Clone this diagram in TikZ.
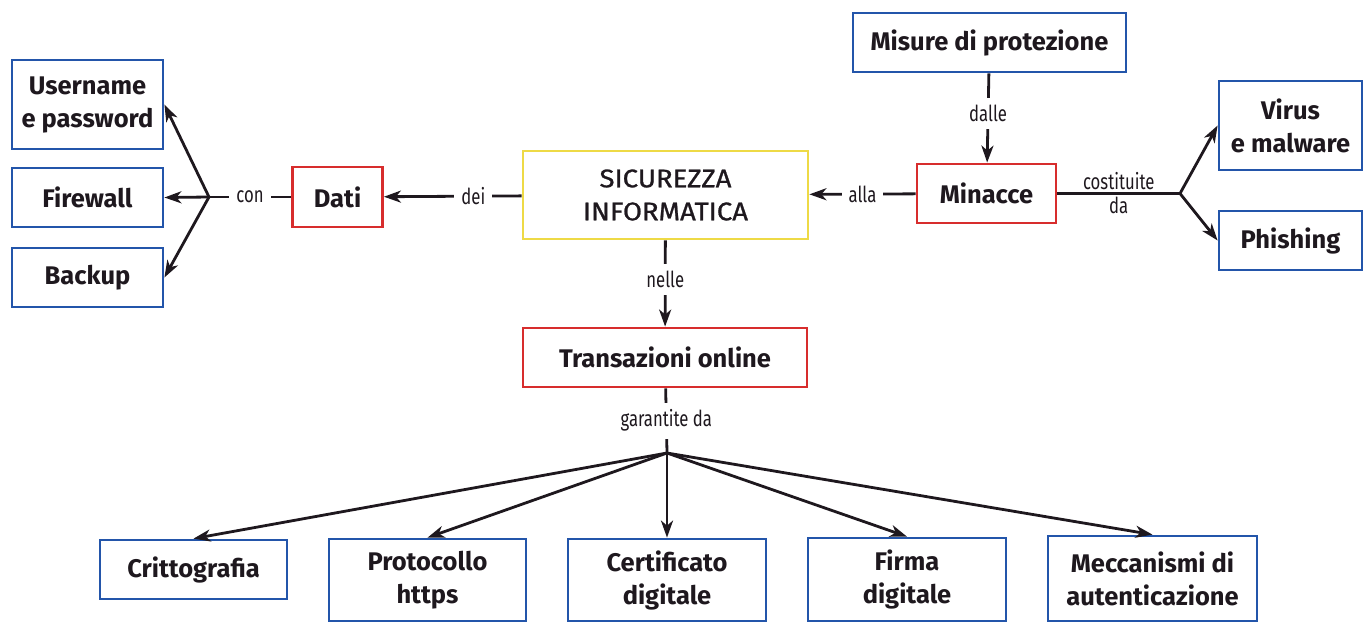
\documentclass[tikz,border=0pt]{standalone}
\usepackage{fontspec}
\setmainfont{Fira Sans}
\newfontfamily\lblfont[FakeStretch=0.76]{Fira Sans}
\newfontfamily\mainfont[FakeStretch=1.08, FakeBold=0.9]{Fira Sans}
\usetikzlibrary{arrows.meta, positioning, calc}
\definecolor{boxblue}{RGB}{35,85,170}
\definecolor{boxred}{RGB}{215,45,45}
\definecolor{boxyellow}{RGB}{238,218,70}
\definecolor{ink}{RGB}{30,24,30}
\tikzset{>={Stealth[length=17pt,width=12pt,inset=5pt]}}
\tikzset{
  concept/.style={rectangle, draw, line width=2.8pt, align=center, text=ink,
    font=\fontsize{25.5}{33}\selectfont\bfseries, inner sep=0pt},
  bluebox/.style={concept, draw=boxblue},
  redbox/.style={concept, draw=boxred},
  mainbox/.style={concept, draw=boxyellow, font=\mainfont\fontsize{25.5}{33}\selectfont},
  arrow/.style={->, line width=2.8pt, draw=ink},
  link/.style={line width=2.8pt, draw=ink},
  lbl/.style={fill=white, text=ink, inner sep=7pt, font=\lblfont\fontsize{22}{24}\selectfont}
}

\begin{document}
\begin{tikzpicture}[x=1pt, y=-1pt]

\useasboundingbox (0,0) rectangle (1364,625);

% Central concept
\node[mainbox, minimum width=285, minimum height=88] (sic) at (665.5,195) {SICUREZZA\\INFORMATICA};

% Left branch
\node[redbox, minimum width=90, minimum height=60] (dati) at (337.5,197) {Dati};
\node[bluebox, minimum width=151, minimum height=89] (user) at (87.5,104.5) {Username\\e password};
\node[bluebox, minimum width=151, minimum height=59] (fire) at (87.5,197.5) {Firewall};
\node[bluebox, minimum width=151, minimum height=59] (back) at (87.5,277.5) {Backup};
\coordinate (conpt) at (209,197);

% Right branch
\node[redbox, minimum width=139, minimum height=59] (min) at (986.5,193.5) {Minacce};
\node[bluebox, minimum width=273, minimum height=59] (mis) at (989.5,42.5) {Misure di protezione};
\node[bluebox, minimum width=143, minimum height=89] (virus) at (1290.5,125.5) {Virus\\e malware};
\node[bluebox, minimum width=143, minimum height=59] (phish) at (1290.5,240.5) {Phishing};
\coordinate (costpt) at (1180,193.5);

% Lower branch
\node[redbox, minimum width=284, minimum height=59] (trans) at (665,357.5) {Transazioni online};
\coordinate (garpt) at (667,453);
\node[bluebox, minimum width=187, minimum height=59] (crit) at (193.5,569.5) {Crittografia};
\node[bluebox, minimum width=197, minimum height=82] (prot) at (427.5,580) {Protocollo\\https};
\node[bluebox, minimum width=198, minimum height=82] (cert) at (667,580) {Certificato\\digitale};
\node[bluebox, minimum width=198, minimum height=83] (firma) at (907,579.5) {Firma\\digitale};
\node[bluebox, minimum width=209, minimum height=85] (mecc) at (1152.5,578.5) {Meccanismi di\\autenticazione};

% Connectors
\draw[arrow] (sic) -- (dati) node[lbl, pos=0.35] {dei};
\draw[link] (dati) -- (conpt) node[lbl, midway] {con};
\draw[arrow] (conpt) -- (user.east);
\draw[arrow] (conpt) -- (fire.east);
\draw[arrow] (conpt) -- (back.east);

\draw[arrow] (min) -- (sic) node[lbl, midway] {alla};
\draw[arrow] (mis) -- (min) node[lbl, pos=0.45] {dalle};
\draw[link] (min) -- (costpt)
  node[midway, above, lbl, fill=none, inner sep=2pt] {costituite}
  node[midway, below, lbl, fill=none, inner sep=2pt] {da};
\draw[arrow] (costpt) -- (virus.west);
\draw[arrow] (costpt) -- (phish.west);

\draw[arrow] (sic) -- (trans) node[lbl, pos=0.45] {nelle};
\draw[link] (trans) -- (garpt) node[lbl, midway] {garantite da};
\draw[arrow] (garpt) -- (crit.north);
\draw[arrow] (garpt) -- (prot.north);
\draw[arrow] (garpt) -- (cert.north);
\draw[arrow] (garpt) -- (firma.north);
\draw[arrow] (garpt) -- (mecc.north);

\end{tikzpicture}
\end{document}
